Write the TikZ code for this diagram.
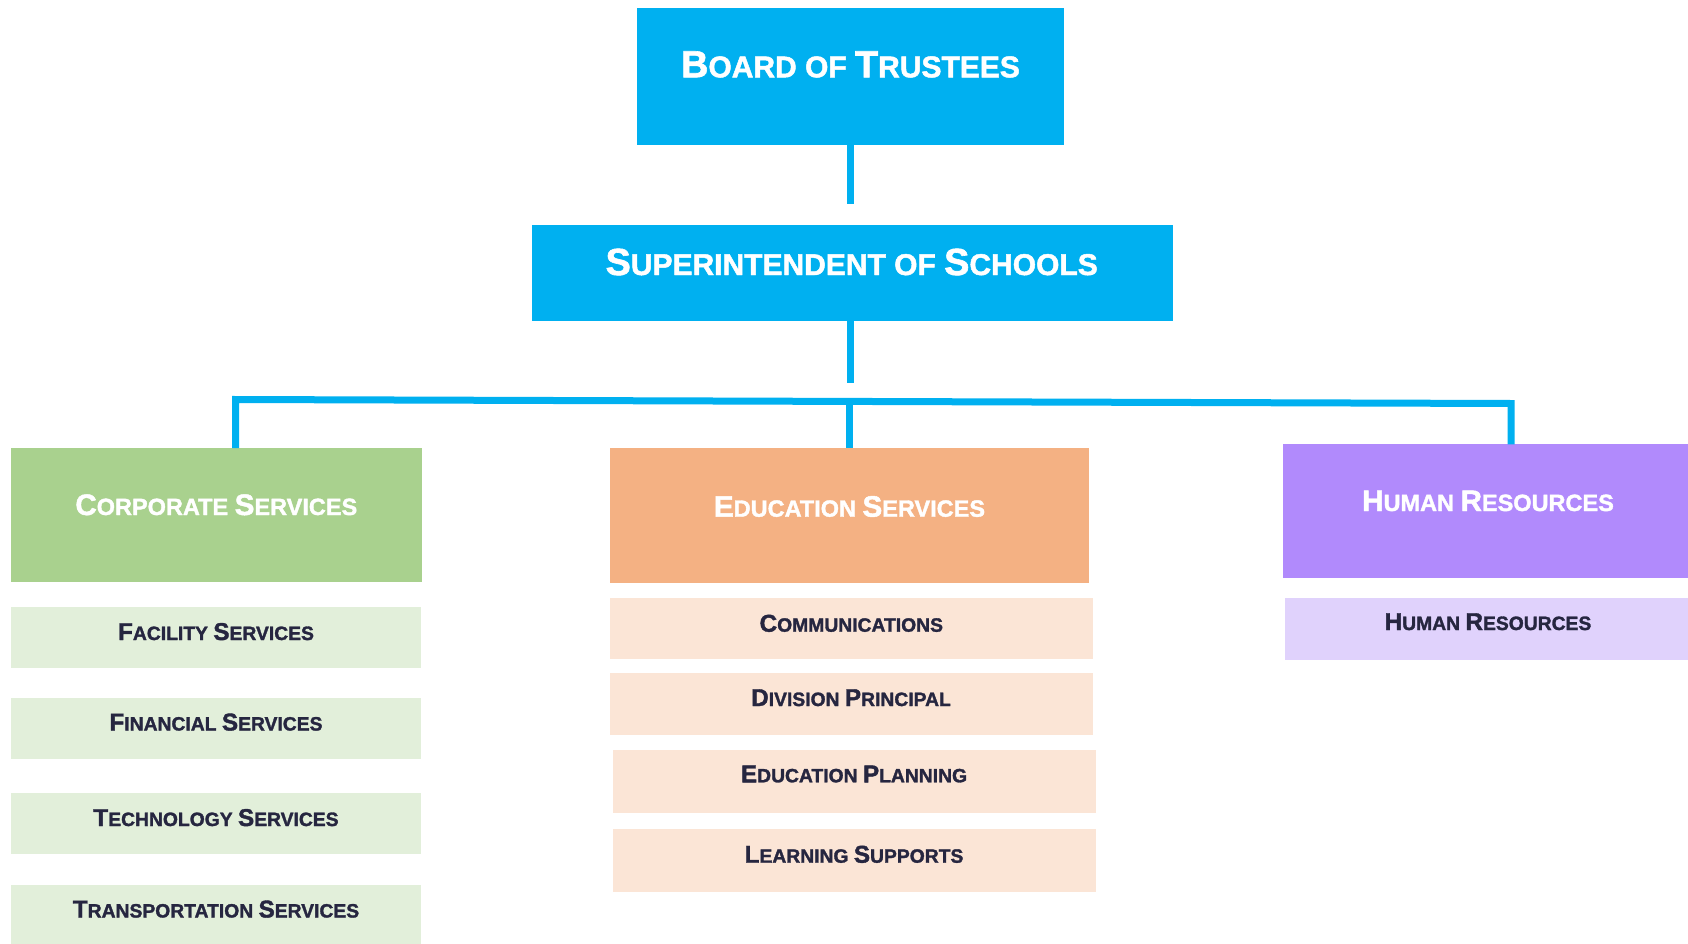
\documentclass[tikz,border=0pt]{standalone}
\usepackage{fontspec}
\usepackage{graphicx}
\usetikzlibrary{fit}
\newfontfamily\hf{Liberation Sans}[BoldFeatures={FakeBold=1.6}]
\definecolor{cblue}{HTML}{00B0F0}
\definecolor{cgreen}{HTML}{A9D18E}
\definecolor{cgreenl}{HTML}{E2EFDA}
\definecolor{corange}{HTML}{F4B183}
\definecolor{corangel}{HTML}{FBE5D6}
\definecolor{cpurple}{HTML}{B18AFC}
\definecolor{cpurplel}{HTML}{E0D2FC}
\definecolor{cnavy}{HTML}{262640}
\newcommand\Bg[1]{\scalebox{1.26}{#1}}
\tikzset{
  box/.style={inner sep=0pt, outer sep=0pt, draw=none},
  conn/.style={draw=cblue, line width=7pt, line join=miter},
  ttl/.style={anchor=base, inner sep=0pt, text=white, font=\hf\bfseries\fontsize{30}{36}\selectfont},
  hdr/.style={anchor=base, inner sep=0pt, text=white, font=\hf\bfseries\fontsize{23.5}{28}\selectfont},
  subt/.style={anchor=base, inner sep=0pt, text=cnavy, font=\hf\bfseries\fontsize{19.3}{24}\selectfont},
}
\begin{document}
\begin{tikzpicture}[x=1pt, y=-1pt]
\useasboundingbox (0,0) rectangle (1688,944);
\fill[white] (0,0) rectangle (1688,944);
% top boxes
\node[box, fill=cblue, fit={(637,8) (1063.6,145.5)}] (board) {};
\node[box, fill=cblue, fit={(531.8,224.5) (1173.4,321)}] (super) {};
% department boxes
\node[box, fill=cgreen, fit={(11,448) (421.7,581.7)}] (corp) {};
\node[box, fill=corange, fit={(610,448) (1089,583)}] (edu) {};
\node[box, fill=cpurple, fit={(1282.7,444.3) (1690,578.3)}] (hr) {};
% sub boxes
\node[box, fill=cgreenl, fit={(11,606.7) (420.7,668.3)}] (fac) {};
\node[box, fill=cgreenl, fit={(11,697.5) (420.7,758.5)}] (fin) {};
\node[box, fill=cgreenl, fit={(11,793) (420.7,853.5)}] (tech) {};
\node[box, fill=cgreenl, fit={(11,884.5) (420.7,946)}] (trans) {};
\node[box, fill=corangel, fit={(610,598) (1092.7,659)}] (comm) {};
\node[box, fill=corangel, fit={(610,673.3) (1092.7,735)}] (div) {};
\node[box, fill=corangel, fit={(612.7,750) (1095.7,813.3)}] (plan) {};
\node[box, fill=corangel, fit={(612.7,829.3) (1095.7,891.7)}] (learn) {};
\node[box, fill=cpurplel, fit={(1285.3,598.3) (1690,659.5)}] (hrsub) {};
% texts
\node[ttl] (tboard) at (850.5,77.3) {\Bg{B}OARD OF \Bg{T}RUSTEES};
\node[ttl] (tsuper) at (851.7,275) {\Bg{S}UPERINTENDENT OF \Bg{S}CHOOLS};
\node[hdr] (tcorp) at (216.3,515) {\Bg{C}ORPORATE \Bg{S}ERVICES};
\node[hdr] (tedu) at (849.5,516.7) {\Bg{E}DUCATION \Bg{S}ERVICES};
\node[hdr] (thr) at (1488,511) {\Bg{H}UMAN \Bg{R}ESOURCES};
\node[subt] (tfac) at (216,640) {\Bg{F}ACILITY \Bg{S}ERVICES};
\node[subt] (tfin) at (216,730.5) {\Bg{F}INANCIAL \Bg{S}ERVICES};
\node[subt] (ttech) at (216,826) {\Bg{T}ECHNOLOGY \Bg{S}ERVICES};
\node[subt] (ttrans) at (216,917.5) {\Bg{T}RANSPORTATION \Bg{S}ERVICES};
\node[subt] (tcomm) at (851.3,631.7) {\Bg{C}OMMUNICATIONS};
\node[subt] (tdiv) at (851,706) {\Bg{D}IVISION \Bg{P}RINCIPAL};
\node[subt] (tplan) at (854,782.3) {\Bg{E}DUCATION \Bg{P}LANNING};
\node[subt] (tlearn) at (854,862.7) {\Bg{L}EARNING \Bg{S}UPPORTS};
\node[subt] (thrsub) at (1488,630) {\Bg{H}UMAN \Bg{R}ESOURCES};
% connectors
\coordinate (j1) at (850.5,204);
\coordinate (j2) at (850.5,383);
\coordinate (bl) at (235.5,399.5);
\coordinate (bm) at (849,401);
\coordinate (br) at (1511,403.5);
\draw[conn] (board.south -| j1) -- (j1);
\draw[conn] (super.south -| j2) -- (j2);
\draw[conn] (corp.north -| bl) -- (bl) -- (br) -- (hr.north -| br);
\draw[conn] (bm) -- (edu.north -| bm);
\end{tikzpicture}
\end{document}
